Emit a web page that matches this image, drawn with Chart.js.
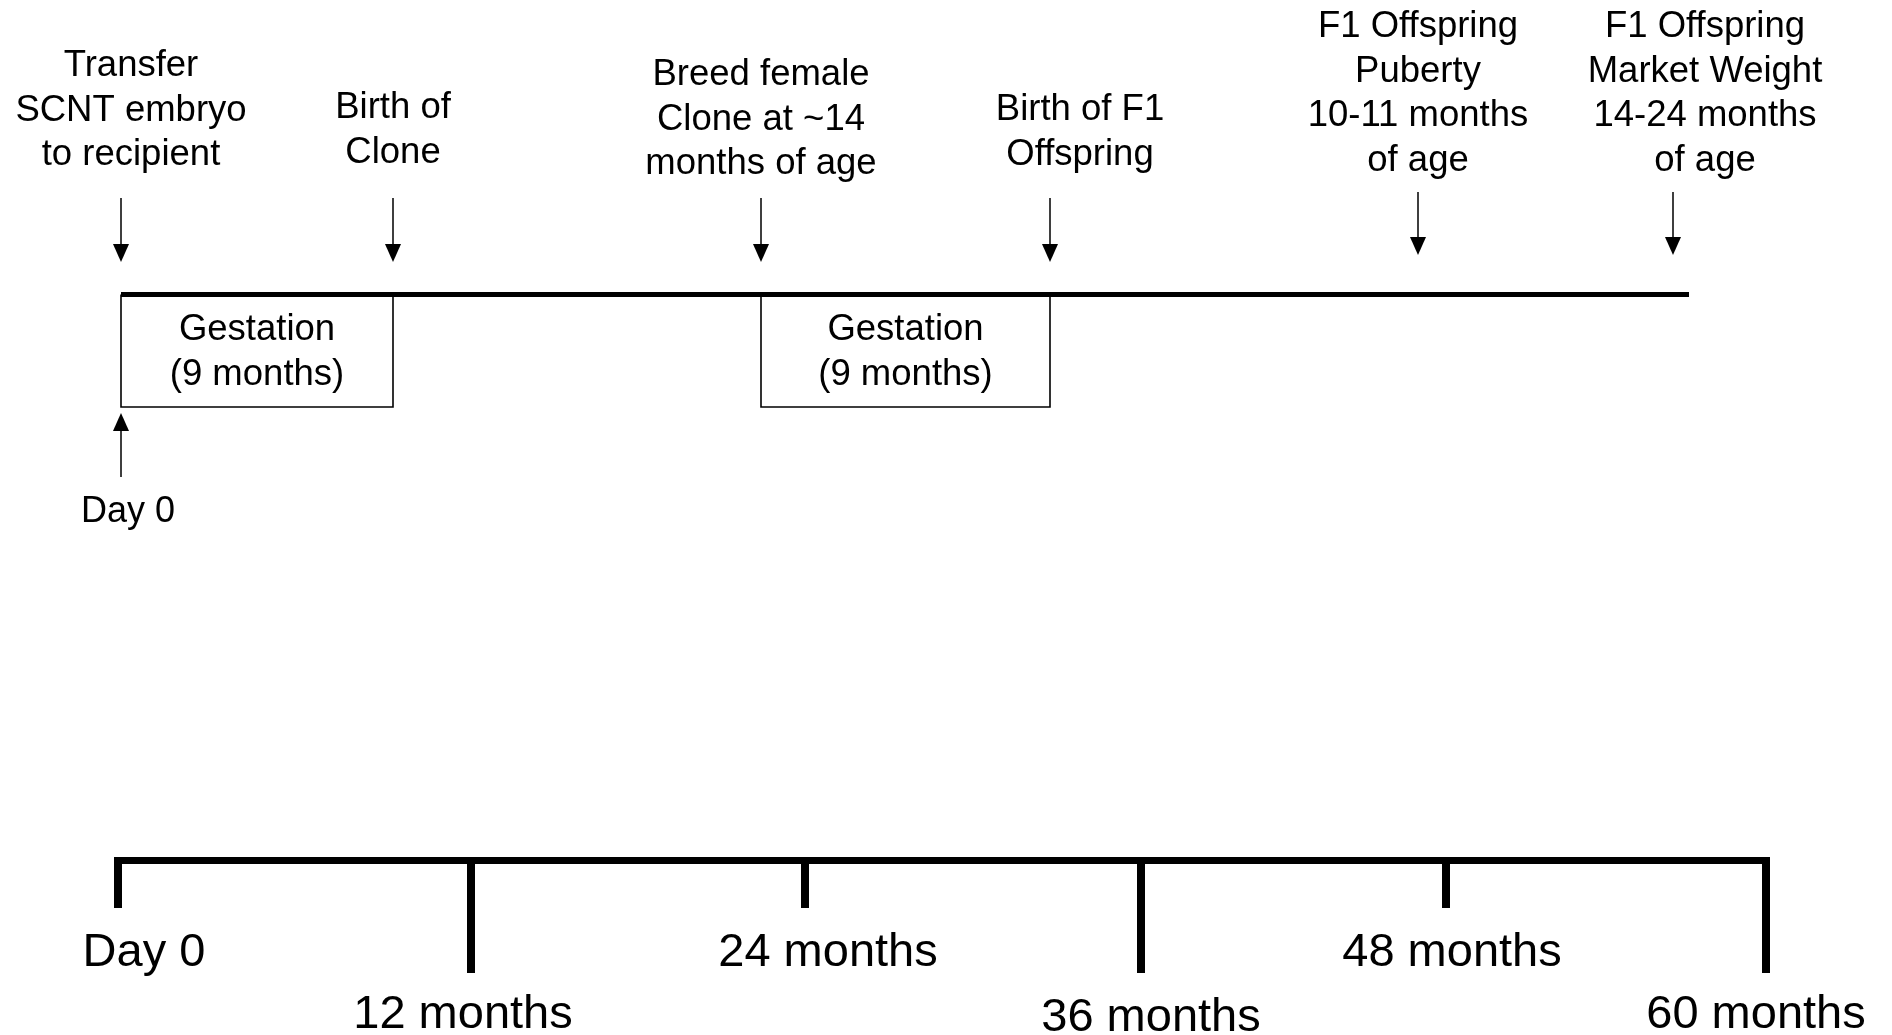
<!DOCTYPE html>
<html lang="en">
<head>
<meta charset="UTF-8">
<title>SCNT clone timeline</title>
<script src="https://cdn.jsdelivr.net/npm/chart.js"></script>
<style>
  body { margin: 0; background: #fff; }
  canvas { display: block; }
</style>
</head>
<body>
<canvas id="chart" width="1892" height="1035"></canvas>
<script>
// diagram units: x left->right, y top->down, same span as the page
const eventLabels = [
  ['Transfer', 'SCNT embryo', 'to recipient'],
  ['Birth of', 'Clone'],
  ['Breed female', 'Clone at ~14', 'months of age'],
  ['Birth of F1', 'Offspring'],
  ['F1 Offspring', 'Puberty', '10-11 months', 'of age'],
  ['F1 Offspring', 'Market Weight', '14-24 months', 'of age']
];
const eventX = [121, 393, 761, 1050, 1418, 1673];
const eventLabelX = [131, 393, 761, 1080, 1418, 1705];
const eventLabelY = [76, 118, 85, 120, 37, 37];
const arrowTop = [198, 198, 198, 198, 192, 192];
const arrowTip = [262, 262, 262, 262, 255, 255];

const timelineX = [121, 1689];
const timelineY = 294.5;

const gestationLabels = [['Gestation', '(9 months)'], ['Gestation', '(9 months)']];
const gestationStart = [121, 761];
const gestationEnd = [393, 1050];
const gestationBottom = 407;
const gestationLabelY = 340;

const startLabel = 'Day 0';
const startArrow = { x: 121, tip: 413, bottom: 477, labelX: 128, labelY: 522 };

const axisLabels = ['Day 0', '12 months', '24 months', '36 months', '48 months', '60 months'];
const axisTickX = [118, 471, 805, 1141, 1446, 1766];
const axisTickEnd = [908, 973, 908, 973, 908, 973];
const axisLabelX = [144, 463, 828, 1151, 1452, 1756];
const axisLabelY = [966, 1028, 966, 1031, 966, 1028];
const axisY = 860.5;

const FONT = '"Liberation Sans", Arial, sans-serif';

function seg(x0, y0, x1, y1, w) {
  return {
    data: [{x: x0, y: y0}, {x: x1, y: y1}],
    borderColor: '#000', borderWidth: w, showLine: true, pointRadius: 0, fill: false
  };
}

const datasets = [];
datasets.push(seg(timelineX[0], timelineY, timelineX[1], timelineY, 5));
gestationStart.forEach((x0, i) => {
  const x1 = gestationEnd[i];
  datasets.push({
    data: [{x: x0, y: timelineY}, {x: x0, y: gestationBottom}, {x: x1, y: gestationBottom}, {x: x1, y: timelineY}],
    borderColor: '#000', borderWidth: 1.6, showLine: true, pointRadius: 0, fill: false
  });
});
const heads = [];
eventX.forEach((x, i) => {
  datasets.push(seg(x, arrowTop[i], x, arrowTip[i] - 14, 1.5));
  heads.push({x: x, y: arrowTip[i], dir: 1});
});
datasets.push(seg(startArrow.x, startArrow.tip + 14, startArrow.x, startArrow.bottom, 1.5));
heads.push({x: startArrow.x, y: startArrow.tip, dir: -1});

datasets.push(seg(axisTickX[0], axisY, axisTickX[axisTickX.length - 1], axisY, 7));
axisTickX.forEach((x, i) => {
  datasets.push(seg(x, axisY - 3.5, x, axisTickEnd[i], 8));
});

function drawText(ctx, text, x, y, size) {
  ctx.font = size + 'px ' + FONT;
  ctx.fillText(text, x, y);
}

const overlay = {
  id: 'overlay',
  afterDatasetsDraw(chart) {
    const ctx = chart.ctx;
    const sx = chart.scales.x, sy = chart.scales.y;
    ctx.save();
    ctx.fillStyle = '#000';
    // arrow heads
    heads.forEach(h => {
      const px = sx.getPixelForValue(h.x), py = sy.getPixelForValue(h.y);
      ctx.beginPath();
      ctx.moveTo(px, py);
      ctx.lineTo(px - 8, py - 18 * h.dir);
      ctx.lineTo(px + 8, py - 18 * h.dir);
      ctx.closePath();
      ctx.fill();
    });
    ctx.textAlign = 'center';
    ctx.textBaseline = 'alphabetic';
    eventLabels.forEach((lines, i) => {
      lines.forEach((t, j) => {
        drawText(ctx, t, sx.getPixelForValue(eventLabelX[i]), sy.getPixelForValue(eventLabelY[i] + j * 44.5), 36.5);
      });
    });
    gestationLabels.forEach((lines, i) => {
      const cx = (gestationStart[i] + gestationEnd[i]) / 2;
      lines.forEach((t, j) => {
        drawText(ctx, t, sx.getPixelForValue(cx), sy.getPixelForValue(gestationLabelY + j * 45), 36.5);
      });
    });
    drawText(ctx, startLabel, sx.getPixelForValue(startArrow.labelX), sy.getPixelForValue(startArrow.labelY), 36);
    axisLabels.forEach((t, i) => {
      drawText(ctx, t, sx.getPixelForValue(axisLabelX[i]), sy.getPixelForValue(axisLabelY[i]), 47);
    });
    ctx.restore();
  }
};

new Chart(document.getElementById('chart'), {
  type: 'scatter',
  data: { datasets: datasets },
  options: {
    responsive: false,
    devicePixelRatio: 1,
    animation: false,
    layout: { padding: 0 },
    plugins: { legend: { display: false }, tooltip: { enabled: false } },
    scales: {
      x: { type: 'linear', min: 0, max: 1892, display: false },
      y: { type: 'linear', min: 0, max: 1035, reverse: true, display: false }
    },
    elements: { line: { tension: 0, borderCapStyle: 'butt', borderJoinStyle: 'miter' } }
  },
  plugins: [overlay]
});
</script>
</body>
</html>
